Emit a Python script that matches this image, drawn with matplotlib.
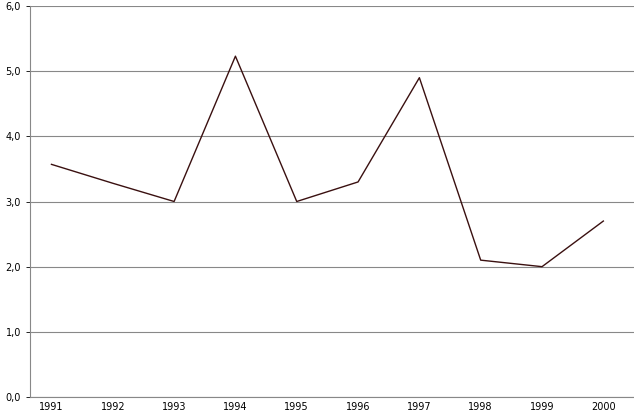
import matplotlib.pyplot as plt

years = ['1991', '1992', '1993', '1994', '1995', '1996', '1997', '1998', '1999', '2000']
values = [3.57, 3.28, 3.0, 5.23, 3.0, 3.3, 4.9, 2.1, 2.0, 2.7]

fig = plt.figure(figsize=(6.34, 4.19), dpi=100)
ax = fig.add_axes([30/634, 22/419, 604/634, 391/419])
ax.plot(range(len(years)), values, color='#3a1010', linewidth=1)
ax.set_ylim(0, 6)
ax.set_xlim(-0.35, 9.5)
ax.set_yticks(range(7))
ax.set_yticklabels(['%d,0' % v for v in range(7)], fontsize=7)
ax.set_xticks(range(len(years)))
ax.set_xticklabels(years, fontsize=7)
ax.yaxis.grid(True, color='#888888', linewidth=0.8)
ax.tick_params(length=3, width=0.6)
ax.tick_params(axis='x', length=0)
for s in ['top', 'right']:
    ax.spines[s].set_visible(False)
ax.spines['left'].set_color('#888888')
ax.spines['bottom'].set_color('#888888')
fig.savefig('out.png')
